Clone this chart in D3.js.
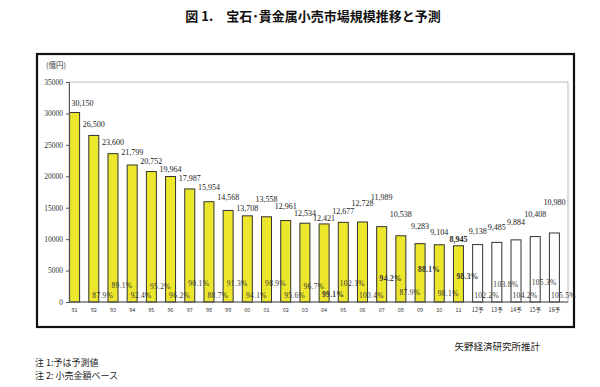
<!DOCTYPE html>
<html>
<head>
<meta charset="utf-8">
<script src="https://cdn.jsdelivr.net/npm/d3@7"></script>
<style>
  html, body { margin: 0; padding: 0; background: #fff; }
  svg { display: block; }
</style>
</head>
<body>
<svg id="chart" width="600" height="387"></svg>
<script>
// ---- data ----
const categories = ["91","92","93","94","95","96","97","98","99","00","01","02","03","04","05","06","07","08","09","10","11","12予","13予","14予","15予","16予"];
const values = [30150,26500,23600,21799,20752,19964,17987,15954,14568,13708,13558,12961,12534,12421,12677,12728,11989,10538,9283,9104,8945,9138,9485,9884,10408,10980];
const isForecast = [false,false,false,false,false,false,false,false,false,false,false,false,false,false,false,false,false,false,false,false,false,true,true,true,true,true];
const ratioLabels = [null,"87.9%","89.1%","92.4%","95.2%","96.2%","90.1%","88.7%","91.3%","94.1%","98.9%","95.6%","96.7%","99.1%","102.1%","100.4%","94.2%","87.9%","88.1%","98.1%","98.3%","102.2%","103.8%","104.2%","105.3%","105.5%"];
const yTicks = [0,5000,10000,15000,20000,25000,30000,35000];

// ---- layout (label placement, px) ----
const valueLabelLift = [9.5,11.4,11.7,13.3,10.6,7.5,11,14.7,13.7,8,18,14.5,10,6,11.6,19,29.6,22,18,13,7,13.6,15,18,23,31];
const valueLabelDx = [8,0,0,0,0,0,0,0,0,0,0,0,0,0,0,0,0,0,0,0,0,0,0,0,0,0];
const ratioLift = [0,7,17,7,16,7,19,7,19,7,19,7,16,8,19,7,24,10,33,9,26,7,18,7,20,7];
const boldValue = new Set([20]);
const boldRatio = new Set([13,16,18,20]);

const svg = d3.select("#chart");
const W = 600, H = 387;
svg.append("rect").attr("width", W).attr("height", H).attr("fill", "#fff");

const serif = "'Liberation Serif','DejaVu Serif',serif";
const cjk = "'Noto Sans CJK JP','Noto Sans CJK SC',sans-serif";

// Title
svg.append("text")
  .attr("x", 313).attr("y", 21)
  .attr("text-anchor", "middle")
  .attr("font-family", cjk)
  .attr("font-weight", 700)
  .attr("font-size", 13)
  .attr("fill", "#111")
  .text("図 1.　宝石･貴金属小売市場規模推移と予測");

// Frame
svg.append("rect")
  .attr("x", 37).attr("y", 54).attr("width", 537).attr("height", 273)
  .attr("fill", "none").attr("stroke", "#111").attr("stroke-width", 2.2);

const plot = { left: 69, right: 568, top: 82, bottom: 302 };

const y = d3.scaleLinear().domain([0, 35000]).range([plot.bottom, plot.top]);
const x = d3.scaleBand().domain(categories).range([65, 564]).padding(0);
const barW = 10;

// plot area border (light)
svg.append("rect")
  .attr("x", plot.left).attr("y", plot.top)
  .attr("width", plot.right - plot.left).attr("height", plot.bottom - plot.top)
  .attr("fill", "none").attr("stroke", "#bbb").attr("stroke-width", 1);

// Bars
svg.append("g").selectAll("rect")
  .data(categories)
  .join("rect")
  .attr("x", (d) => x(d) + x.bandwidth() / 2 - barW / 2)
  .attr("y", (d, i) => y(values[i]))
  .attr("width", barW)
  .attr("height", (d, i) => y(0) - y(values[i]))
  .attr("fill", (d, i) => isForecast[i] ? "#ffffff" : "#ece62c")
  .attr("stroke", "#333")
  .attr("stroke-width", 1);

// Y axis
const yAxis = d3.axisLeft(y).tickValues(yTicks).tickSize(3).tickPadding(3).tickFormat(d3.format("d"));
const gy = svg.append("g").attr("transform", `translate(${plot.left},0)`).call(yAxis);
gy.select(".domain").attr("stroke", "#555");
gy.selectAll(".tick line").attr("stroke", "#555");
gy.selectAll(".tick text").attr("font-family", serif).attr("font-size", 7.5).attr("fill", "#333");

// X axis
const xAxis = d3.axisBottom(x).tickSize(0).tickPadding(6);
const gx = svg.append("g").attr("transform", `translate(0,${plot.bottom})`).call(xAxis);
gx.select(".domain").attr("d", `M${plot.left},0H${plot.right}`).attr("stroke", "#555");
gx.selectAll(".tick text").attr("font-family", cjk).attr("font-size", 5.5).attr("fill", "#333");

// unit label
svg.append("text")
  .attr("x", 46).attr("y", 68)
  .attr("font-family", cjk).attr("font-size", 7.5).attr("fill", "#333")
  .text("(億円)");

// value labels
svg.append("g").selectAll("text")
  .data(categories)
  .join("text")
  .attr("x", (d, i) => x(d) + x.bandwidth() / 2 + valueLabelDx[i])
  .attr("y", (d, i) => y(values[i]) - valueLabelLift[i] + 3)
  .attr("text-anchor", "middle")
  .attr("font-family", serif)
  .attr("font-size", 8)
  .attr("font-weight", (d, i) => boldValue.has(i) ? 700 : 400)
  .attr("fill", "#222")
  .text((d, i) => d3.format(",")(values[i]));

// ratio labels
svg.append("g").selectAll("text")
  .data(categories.filter((d, i) => ratioLabels[i] !== null))
  .join("text")
  .each(function (d) {
    const i = categories.indexOf(d);
    d3.select(this)
      .attr("x", x(d) + x.bandwidth() / 2 + 9)
      .attr("y", plot.bottom - ratioLift[i] + 3)
      .attr("font-weight", boldRatio.has(i) ? 700 : 400)
      .text(ratioLabels[i]);
  })
  .attr("text-anchor", "middle")
  .attr("font-family", serif)
  .attr("font-size", 7.5)
  .attr("letter-spacing", 0.3)
  .attr("fill", "#333");

// source and notes
svg.append("text")
  .attr("x", 540).attr("y", 350)
  .attr("text-anchor", "end")
  .attr("font-family", cjk).attr("font-size", 9.5).attr("fill", "#222")
  .text("矢野経済研究所推計");
svg.append("text")
  .attr("x", 35).attr("y", 366)
  .attr("font-family", cjk).attr("font-size", 9).attr("fill", "#222")
  .text("注 1:予は予測値");
svg.append("text")
  .attr("x", 35).attr("y", 379)
  .attr("font-family", cjk).attr("font-size", 9).attr("fill", "#222")
  .text("注 2:  小売金額ベース");
</script>
</body>
</html>
